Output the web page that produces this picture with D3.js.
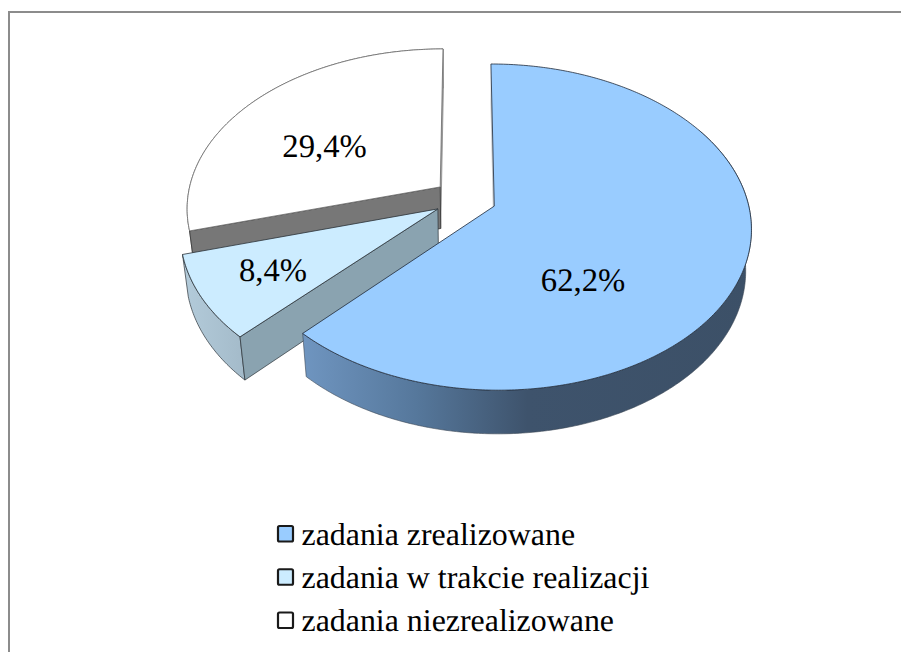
<!DOCTYPE html>
<html>
<head>
<meta charset="utf-8">
<script src="https://cdn.jsdelivr.net/npm/d3@7"></script>
<style>
  html, body { margin: 0; padding: 0; background: #fff; }
  svg { display: block; }
  text { font-family: "Liberation Serif", "Times New Roman", serif; fill: #000; text-rendering: geometricPrecision; }
</style>
</head>
<body>
<svg width="901" height="652"></svg>
<script>
(function() {
    'use strict';
    var categories = ["zadania zrealizowane", "zadania w trakcie realizacji", "zadania niezrealizowane"];
    var values = [62.2, 8.4, 29.4];

    var topFill = ["#99ccff", "#ccecff", "#ffffff"];
    var sideFill = ["#6a8db5", "#8aa3b0", "#777777"];
    var edgeStroke = ["#1f2a38", "#2b3238", "#6a6a6a"];

    var svg = d3.select("svg");

    // camera: disk coordinates (u right, v back, z down) onto the page
    var cx = 465, cy = 198.7, scaleU = 253, scaleV = 158.5, depth = 42.5;
    var tiltK = 0.128, tiltM = 0.02, explode = 0.124;

    function project(u, v, z) {
        var w = 1 + tiltK * v + tiltM * z;
        return [cx + scaleU * u / w, cy + (depth * z - scaleV * v) / w];
    }

    var arcs = d3.pie().sort(null)(values);
    var line = d3.line();

    function rimPoint(d, a, z) {
        var mid = (d.startAngle + d.endAngle) / 2;
        return project(Math.sin(a) + explode * Math.sin(mid), Math.cos(a) + explode * Math.cos(mid), z);
    }
    function apexPoint(d, z) {
        var mid = (d.startAngle + d.endAngle) / 2;
        return project(explode * Math.sin(mid), explode * Math.cos(mid), z);
    }
    function rim(d, z, from) {
        var start = from === undefined ? d.startAngle : from;
        var n = Math.ceil((d.endAngle - start) * 90);
        return d3.range(n + 1).map(function(i) {
            return rimPoint(d, start + (d.endAngle - start) * i / n, z);
        });
    }
    function radialWall(d, a) {
        return line([apexPoint(d, 0), rimPoint(d, a, 0), rimPoint(d, a, 1), apexPoint(d, 1)]) + "Z";
    }
    function outerWall(d, from) {
        return line(rim(d, 0, from).concat(rim(d, 1, from).reverse())) + "Z";
    }
    function topFace(d) {
        return line([apexPoint(d, 0)].concat(rim(d, 0))) + "Z";
    }

    var defs = svg.append("defs");
    function gradient(id, x1, x2, stops) {
        var g = defs.append("linearGradient").attr("id", id)
            .attr("gradientUnits", "userSpaceOnUse")
            .attr("x1", x1).attr("x2", x2).attr("y1", 0).attr("y2", 0);
        stops.forEach(function(s) {
            g.append("stop").attr("offset", s[0]).attr("stop-color", s[1]);
        });
    }
    gradient("wallBlue", 303, 752, [[0, "#6f95c0"], [0.25, "#56789c"], [0.5, "#3e536c"], [1, "#3c5067"]]);
    gradient("wallLight", 183, 247, [[0, "#b3cbda"], [1, "#a3bac9"]]);

    // frame, only the top and left sides fall inside the picture
    svg.append("path")
        .attr("d", "M9,652V12H901")
        .attr("fill", "none")
        .attr("stroke", "#8c8c8c")
        .attr("stroke-width", 2);

    var pie = svg.append("g");

    // back to front: white slice, light slice, blue slice
    var white = arcs[2], light = arcs[1], blue = arcs[0];

    pie.append("path").attr("d", outerWall(white))
        .attr("fill", "#fff").attr("stroke", edgeStroke[2]).attr("stroke-width", 0.8);
    pie.append("path").attr("d", radialWall(white, white.endAngle))
        .attr("fill", "#b0b0b0").attr("stroke", "#888").attr("stroke-width", 0.8);
    pie.append("path").attr("d", radialWall(white, white.startAngle))
        .attr("fill", sideFill[2]).attr("stroke", "#333").attr("stroke-width", 0.8);
    pie.append("path").attr("d", topFace(white))
        .attr("fill", topFill[2]).attr("stroke", edgeStroke[2]).attr("stroke-width", 0.8);

    pie.append("path").attr("d", outerWall(light))
        .attr("fill", "url(#wallLight)").attr("stroke", edgeStroke[1]).attr("stroke-width", 0.7);
    pie.append("path").attr("d", radialWall(light, light.startAngle))
        .attr("fill", sideFill[1]).attr("stroke", edgeStroke[1]).attr("stroke-width", 0.7);
    pie.append("path").attr("d", topFace(light))
        .attr("fill", topFill[1]).attr("stroke", edgeStroke[1]).attr("stroke-width", 0.8);

    pie.append("path").attr("d", radialWall(blue, blue.startAngle))
        .attr("fill", "#c4c8cc").attr("stroke", "none");
    // the back of the blue rim is hidden, start the wall past it
    pie.append("path").attr("d", outerWall(blue, Math.PI / 3))
        .attr("fill", "url(#wallBlue)").attr("stroke", "#3a4654").attr("stroke-width", 0.6);
    pie.append("path").attr("d", topFace(blue))
        .attr("fill", topFill[0]).attr("stroke", edgeStroke[0]).attr("stroke-width", 0.8);

    // data labels
    var labelX = [583, 273, 324.5], labelY = [291, 281, 157];
    svg.append("g").selectAll("text")
        .data(values)
        .enter().append("text")
        .attr("x", function(d, i) { return labelX[i]; })
        .attr("y", function(d, i) { return labelY[i]; })
        .attr("text-anchor", "middle")
        .attr("font-size", 32.7)
        .text(function(d) { return d.toFixed(1).replace(".", ",") + "%"; });

    // legend
    var legendY = d3.scalePoint().domain(categories).range([544.5, 631]);
    var legend = svg.append("g").selectAll("g")
        .data(categories)
        .enter().append("g");

    legend.append("rect")
        .attr("x", 278)
        .attr("y", function(d) { return legendY(d) - 18.5; })
        .attr("width", 15)
        .attr("height", 15.5)
        .attr("rx", 1.5)
        .attr("fill", function(d, i) { return topFill[i]; })
        .attr("stroke", "#1a1a1a")
        .attr("stroke-width", 2.2);

    legend.append("text")
        .attr("x", 301.5)
        .attr("y", function(d) { return legendY(d); })
        .attr("font-size", 31.9)
        .text(function(d) { return d; });
}())
</script>
</body>
</html>
